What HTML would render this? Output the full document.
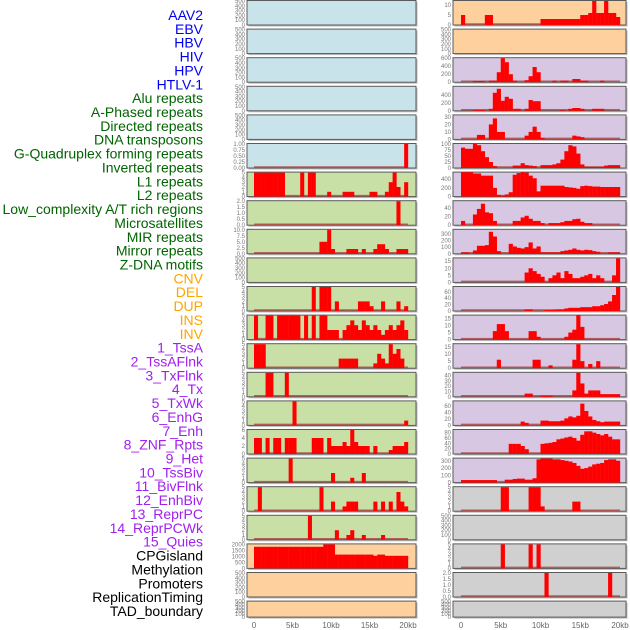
<!DOCTYPE html>
<html><head><meta charset="utf-8">
<style>
html,body{margin:0;padding:0;background:#fff;width:630px;height:630px;overflow:hidden}
svg{display:block}
.lab{font-family:"Liberation Sans",sans-serif;font-size:14px}
.tk{font-family:"Liberation Sans",sans-serif;font-size:6px;fill:#777}
.xt{font-family:"Liberation Sans",sans-serif;font-size:8px;fill:#666}
</style></head>
<body>
<svg id="chart" width="630" height="630" xmlns="http://www.w3.org/2000/svg"></svg>
<script>
// ---- category labels ----
const trackLabels = ["AAV2","EBV","HBV","HIV","HPV","HTLV-1","Alu repeats","A-Phased repeats","Directed repeats","DNA transposons","G-Quadruplex forming repeats","Inverted repeats","L1 repeats","L2 repeats","Low_complexity A/T rich regions","Microsatellites","MIR repeats","Mirror repeats","Z-DNA motifs","CNV","DEL","DUP","INS","INV","1_TssA","2_TssAFlnk","3_TxFlnk","4_Tx","5_TxWk","6_EnhG","7_Enh","8_ZNF_Rpts","9_Het","10_TssBiv","11_BivFlnk","12_EnhBiv","13_ReprPC","14_ReprPCWk","15_Quies","CPGisland","Methylation","Promoters","ReplicationTiming","TAD_boundary"];
const labelGroups = ["virus","virus","virus","virus","virus","virus","repeat","repeat","repeat","repeat","repeat","repeat","repeat","repeat","repeat","repeat","repeat","repeat","repeat","sv","sv","sv","sv","sv","chrom","chrom","chrom","chrom","chrom","chrom","chrom","chrom","chrom","chrom","chrom","chrom","chrom","chrom","chrom","other","other","other","other","other"];
const xTickValues = [0,5000,10000,15000,20000];
const xTickLabels = ["0","5kb","10kb","15kb","20kb"];
const binSizeBp = 500;

// ---- left column series (40 bins of 500bp) ----
const leftYMax = [500,500,500,500,500,1,5,2,10,500,5,5,5,5,5,6,5,5,5,2000,500,500];
const leftTicks = [[0,100,200,300,400,500],[0,100,200,300,400,500],[0,100,200,300,400,500],[0,100,200,300,400,500],[0,100,200,300,400,500],["0.00","0.25","0.50","0.75","1.00"],[0,1,2,3,4,5],["0.0","0.5","1.0","1.5","2.0"],["0.0","2.5","5.0","7.5","10.0"],[0,100,200,300,400,500],[0,1,2,3,4,5],[0,1,2,3,4,5],[0,1,2,3,4,5],[0,1,2,3,4,5],[0,1,2,3,4,5],[0,2,4,6],[0,1,2,3,4,5],[0,1,2,3,4,5],[0,1,2,3,4,5],[0,500,1000,1500,2000],[0,100,200,300,400,500],[0,100,200,300,400,500]];
const leftS5  = [0,0,0,0,0,0,0,0,0,0, 0,0,0,0,0,0,0,0,0,0, 0,0,0,0,0,0,0,0,0,0, 0,0,0,0,0,0,0,0,0,1];
const leftS6  = [5,5,5,5,5,5,5,5,0,0, 0,0,5,0,5,5,0,0,0,1, 0,0,0,1,1,1,0,0,0,0, 1,1,0,0,1,3,5,2,0,3];
const leftS7  = [0,0,0,0,0,0,0,0,0,0, 0,0,0,0,0,0,0,0,0,0, 0,0,0,0,0,0,0,0,0,0, 0,0,0,0,0,0,0,2,0,0];
const leftS8  = [0,0,0,0,0,0,0,0,0,0, 0,0,0,0,0,0,0,5,5,10, 2,0,0,0,2,2,2,0,2,0, 0,2,4,4,2,0,0,2,2,2];
const leftS10 = [0,0,0,0,0,0,0,0,0,0, 0,0,0,0,0,5,0,5,5,5, 0,2,0,0,0,0,0,2,2,2, 1,0,0,2,0,0,0,2,0,1];
const leftS11 = [5,0,0,5,5,0,5,5,5,5, 5,5,0,5,0,5,0,5,5,2, 2,2,0,2,3,4,3,2,4,3, 2,3,2,1,2,3,2,3,4,2];
const leftS12 = [5,5,5,0,0,0,0,0,0,0, 0,0,0,0,0,0,0,0,0,0, 0,0,2,2,2,2,2,0,0,0, 0,1,3,2,1,5,3,4,2,0];
const leftS13 = [0,0,0,5,5,0,0,0,5,0, 0,0,0,0,0,0,0,0,0,0, 0,0,0,0,0,0,0,0,0,0, 0,0,0,0,0,0,0,0,0,0];
const leftS14 = [0,0,0,0,0,0,0,0,0,0, 5,0,0,0,0,0,0,0,0,0, 0,0,0,0,0,0,0,0,0,0, 0,0,0,0,0,0,0,0,0,1];
const leftS15 = [4,4,0,4,0,4,4,0,4,4, 4,0,0,0,0,4,4,4,0,4, 2,2,2,3,2,6,3,2,2,2, 0,2,0,0,0,1,2,2,2,3];
const leftS16 = [0,0,0,0,0,0,0,0,0,5, 0,0,0,0,0,0,0,0,0,0, 2,0,0,0,0,1,0,0,2,0, 0,0,0,0,0,0,0,0,0,0];
const leftS17 = [0,5,0,0,0,0,0,0,0,0, 0,0,0,0,0,0,0,5,0,0, 2,0,0,1,2,2,2,0,0,0, 0,2,0,2,0,2,0,4,2,1];
const leftS18 = [0,0,0,0,0,0,0,0,0,0, 0,0,0,0,5,0,0,0,0,0, 0,2,0,0,1,2,0,0,1,0, 0,0,0,1,0,0,0,0,0,0];
const leftS19 = [1800,1800,1800,1800,1800,1800,1800,1800,1800,1800, 1800,1800,1800,1800,1800,1800,1800,1800,2000,2000, 2000,1150,1150,1150,1150,1150,1150,1150,1150,1150, 1150,1050,1150,1150,1050,1050,1050,1050,1050,1050];
const leftSeries = [null,null,null,null,null,leftS5,leftS6,leftS7,leftS8,null,leftS10,leftS11,leftS12,leftS13,leftS14,leftS15,leftS16,leftS17,leftS18,leftS19,null,null];

// ---- right column series ----
const rightYMax = [12,500,600,600,32,100,550,56,360,17,75,17,17,45,75,90,330,5,500,5,2,500];
const rightTicks = [[0,5,10],[0,100,200,300,400,500],[0,200,400,600],[0,200,400],[0,10,20,30],[0,25,50,75,100],[0,200,400],[0,20,40],[0,100,200,300],[0,5,10,15],[0,20,40,60],[0,5,10,15],[0,5,10,15],[0,10,20,30,40],[0,20,40,60],[0,20,40,60,80],[0,100,200,300],[0,1,2,3,4,5],[0,100,200,300,400,500],[0,1,2,3,4,5],["0.0","0.5","1.0","1.5","2.0"],[0,100,200,300,400,500]];
const rightS0  = [5,0,0,0,0,0,5,5,0,0, 0,0,0,0,0,0,0,0,0,0, 3,3,3,3,3,3,3,3,3,3, 5,5,6,12,6,6,12,6,6,4];
const rightS2  = [0,0,0,30,30,30,0,40,40,250, 600,500,200,40,0,0,50,150,380,250, 0,0,0,40,0,40,40,0,80,80, 40,40,0,0,0,40,0,0,0,0];
const rightS3  = [0,0,0,20,20,20,0,50,450,550, 250,350,300,50,50,0,50,270,240,240, 0,0,0,0,0,20,0,50,70,70, 50,0,0,50,50,50,0,0,0,0];
const rightS4  = [0,0,0,0,6,6,0,20,28,10, 10,0,0,0,0,0,5,10,17,10, 2,0,0,0,0,0,0,0,5,4, 3,0,0,0,0,0,0,0,0,0];
const rightS5  = [85,80,80,100,95,70,45,25,8,0, 0,0,0,10,10,20,12,10,8,0, 12,12,12,15,20,35,70,95,90,60, 15,5,5,5,5,5,10,12,12,12];
const rightS6  = [560,560,560,530,530,480,480,480,200,40, 20,50,100,500,540,560,550,480,420,120, 250,250,250,250,250,250,220,210,200,180, 240,250,240,230,230,220,220,220,220,220];
const rightS7  = [10,0,0,25,38,50,30,28,10,0, 0,0,0,10,10,18,22,15,10,10, 5,0,5,5,5,7,10,10,14,15, 8,5,5,0,0,0,0,0,0,0];
const rightS8  = [20,20,0,50,120,120,130,330,260,40, 0,0,150,110,90,80,100,170,80,110, 20,20,20,20,20,40,50,60,80,60, 50,60,55,40,30,0,0,20,20,20];
const rightS9  = [0,0,0,0,0,0,0,0,0,0, 0,0,0,0,0,0,7,10,8,6, 4,0,3,5,7,3,8,6,3,3, 4,5,6,3,5,3,0,0,5,17];
const rightS10 = [0,0,0,0,0,0,0,0,0,0, 0,0,0,0,0,0,5,5,0,0, 0,3,3,4,5,5,8,10,10,10, 12,12,12,15,15,18,22,30,50,75];
const rightS11 = [0,0,0,0,0,0,0,0,6,11, 11,6,0,0,0,0,0,6,6,2, 0,0,0,0,0,0,2,5,7,18, 9,0,0,0,0,0,0,0,0,0];
const rightS12 = [0,0,0,0,0,0,0,0,0,6, 0,0,0,0,0,0,0,0,6,6, 0,0,2,0,0,0,0,0,6,17, 5,0,3,0,5,0,0,0,0,0];
const rightS13 = [0,0,0,0,0,0,0,0,0,0, 0,0,0,0,0,0,6,6,0,0, 2,2,2,0,0,0,0,0,12,45, 25,6,12,12,12,5,5,5,5,5];
const rightS14 = [0,0,0,0,0,0,0,0,0,0, 0,0,0,0,0,12,8,0,0,0, 15,15,13,13,13,15,22,28,25,30, 68,45,28,17,13,10,12,12,12,12];
const rightS15 = [0,0,0,0,0,0,0,0,0,0, 0,0,38,38,38,30,18,0,0,0, 38,40,42,45,55,58,62,65,60,50, 72,85,85,80,75,70,75,65,55,55];
const rightS16 = [35,35,35,35,35,35,35,35,35,0, 0,40,40,50,55,55,40,40,60,320, 330,330,330,320,320,310,300,290,270,230, 190,200,220,250,260,270,310,320,320,300];
const rightS17 = [0,0,0,0,0,0,0,0,0,0, 5,5,0,0,0,0,0,5,5,5, 1,0,0,0,0,0,0,0,2,2, 0,0,0,0,0,0,0,0,0,0];
const rightS19 = [0,0,0,0,0,0,0,0,0,0, 5,0,0,0,0,0,0,5,0,5, 0,0,0,0,0,0,0,0,0,0, 0,0,0,0,0,0,0,0,0,0];
const rightS20 = [0,0,0,0,0,0,0,0,0,0, 0,0,0,0,0,0,0,0,0,0, 0,2,0,0,0,0,0,0,0,0, 0,0,0,0,0,0,0,2,0,0];
const rightSeries = [rightS0,null,rightS2,rightS3,rightS4,rightS5,rightS6,rightS7,rightS8,rightS9,rightS10,rightS11,rightS12,rightS13,rightS14,rightS15,rightS16,rightS17,null,rightS19,rightS20,null];

const leftBg = ["blue","blue","blue","blue","blue","blue","green","green","green","green","green","green","green","green","green","green","green","green","green","orange","orange","orange"];
const rightBg = ["orange","orange","purple","purple","purple","purple","purple","purple","purple","purple","purple","purple","purple","purple","purple","purple","purple","grey","grey","grey","grey","grey"];

// ---- drawing ----
const NS = "http://www.w3.org/2000/svg";
const svg = document.getElementById("chart");
const bgColors = {blue:"#c9e3eb",green:"#c8e0a5",orange:"#fed09e",purple:"#d8c7e2",grey:"#d0d0d0"};
const labelColors = {virus:"#0000f0",repeat:"#006400",sv:"#ffa500",chrom:"#a020f0",other:"#000000"};
function mk(tag, attrs){const e=document.createElementNS(NS,tag);for(const k in attrs)e.setAttribute(k,attrs[k]);svg.appendChild(e);return e;}

trackLabels.forEach((t,i)=>{
  const e=mk("text",{x:203,y:20+i*13.86,"text-anchor":"end",class:"lab",fill:labelColors[labelGroups[i]]});
  e.textContent=t;
  
  
});

const cols=[
  {x0:247,x1:416,d0:254,d1:408,ymax:leftYMax,ticks:leftTicks,series:leftSeries,bg:leftBg,name:"left"},
  {x0:453,x1:626,d0:461,d1:620,ymax:rightYMax,ticks:rightTicks,series:rightSeries,bg:rightBg,name:"right"}
];
function rowTop(i){return 0.5+28.6*i;}
function rowH(i){return i===21?16:24.5;}

cols.forEach(c=>{
  const xs=v=>c.d0+(v/20000)*(c.d1-c.d0);
  for(let i=0;i<22;i++){
    const top=rowTop(i),h=rowH(i),bot=top+h;
    const ys=v=>bot-(v/c.ymax[i])*(h-0.5);
    mk("rect",{x:c.x0+1.5,y:top+1.5,width:c.x1-c.x0,height:h,fill:"#bbbbbb"});
    const p=mk("rect",{x:c.x0,y:top,width:c.x1-c.x0,height:h,fill:bgColors[c.bg[i]],stroke:"#5a5a5a","stroke-width":1});
    
    
    const tk=c.ticks[i];
    tk.forEach(t=>{
      const tt=mk("text",{x:c.x0-2,y:ys(+t)+2,"text-anchor":"end",class:"tk"});
      tt.textContent=String(t);
      
      
    });
    const s=c.series[i];
    if(s){
      const bl=mk("line",{x1:xs(0),x2:xs(20000),y1:bot-1,y2:bot-1,stroke:"#b04040","stroke-width":1.5,opacity:0.8});
      
      
      s.forEach((v,b)=>{
        if(!v)return;
        const xa=xs(b*binSizeBp),xb=xs((b+1)*binSizeBp);
        const y=Math.max(top,ys(v));
        const r=mk("rect",{x:xa,y:y,width:xb-xa+0.2,height:bot-y,fill:"#ff0000"});
        
        
      });
    }
  }
  xTickValues.forEach((v,k)=>{
    const t=mk("text",{x:xs(v),y:628,"text-anchor":"middle",class:"xt"});
    t.textContent=xTickLabels[k];
    
    
  });
});
</script>
</body></html>
